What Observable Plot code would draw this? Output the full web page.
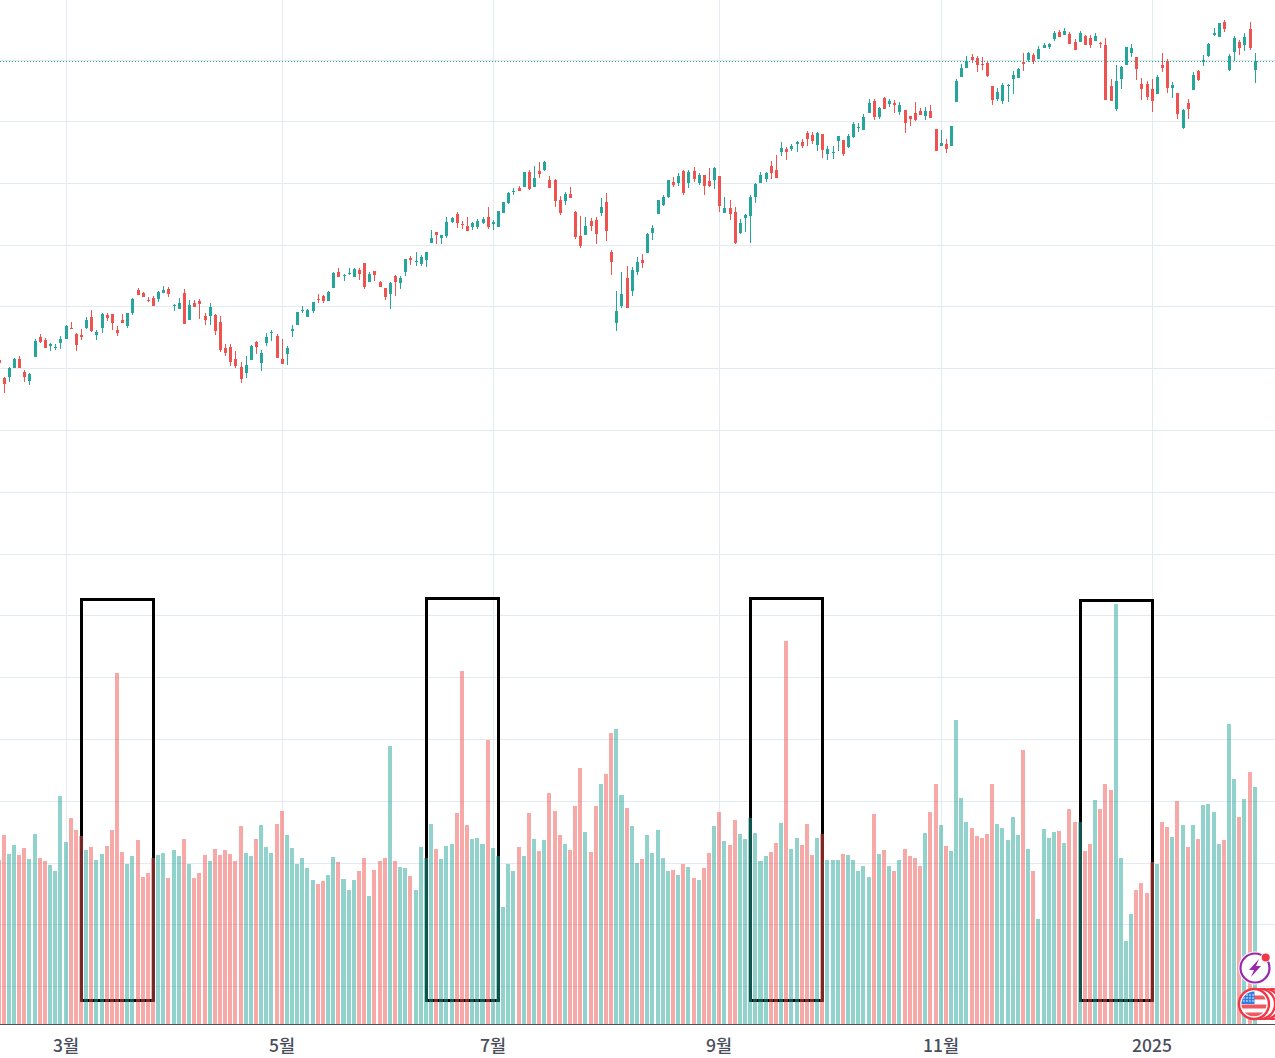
<!DOCTYPE html>
<html lang="ko">
<head>
<meta charset="utf-8">
<title>Candlestick and volume chart</title>
<script src="https://cdn.jsdelivr.net/npm/d3@7"></script>
<script src="https://cdn.jsdelivr.net/npm/@observablehq/plot@0.6"></script>
<style>
html,body{margin:0;padding:0;background:#fff;overflow:hidden}
#chart{position:relative;width:1275px;height:1058px;overflow:hidden}
#chart svg{display:block}
#icons{position:absolute;left:0;top:0;pointer-events:none}
</style>
</head>
<body>
<div id="chart"></div>
<script>
// Values are read off the picture. The axis has no printed scale, so price and volume are
// in relative chart units above the baseline of the pane. Session -1 is the clipped first bar.
const high = [664,
647,657,666,668,654,651,685,690,686,681,
680,688,699,702,691,695,707,714,694,711,
711,710,698,710,711,726,736,732,727,728,
733,738,737,720,726,735,724,724,725,711,
721,710,708,680,680,673,662,668,679,683,
674,691,694,690,685,678,699,712,718,715,
722,730,729,733,752,756,750,756,756,756,
761,752,753,743,736,742,749,748,765,768,
772,769,772,794,792,789,807,807,812,803,
807,802,805,807,817,804,813,822,832,836,
838,852,854,858,862,863,848,845,828,832,
837,813,808,807,806,807,826,831,774,733,
752,758,757,767,770,791,799,824,829,844,
847,851,854,854,857,851,849,856,857,848,
827,824,817,805,810,829,841,852,852,863,
869,882,877,880,883,885,893,892,892,890,
878,878,888,884,890,902,901,910,925,925,
917,927,925,924,922,914,908,922,916,917,
919,895,894,885,898,945,960,968,970,968,
967,962,938,936,941,940,953,956,971,972,
971,978,981,981,993,994,996,992,985,993,
989,989,991,982,986,945,959,958,977,980,
967,946,943,945,949,971,965,942,931,915,
925,952,954,969,981,996,1001,1004,970,988,
984,991,1002,971];
const low = [661,
631,642,656,656,642,639,667,681,676,673,
674,675,685,695,673,684,695,692,684,691,
703,694,688,701,696,709,729,727,722,718,
722,731,727,713,715,700,704,717,705,699,
699,689,672,668,658,656,641,646,664,670,
653,678,683,666,660,659,687,699,711,707,
711,721,721,723,736,747,743,749,747,744,
735,742,743,737,724,715,728,735,748,759,
758,758,757,781,780,780,786,801,796,795,
793,794,795,800,795,794,797,811,820,829,
833,837,834,837,846,853,836,817,809,819,
826,785,776,789,793,780,808,783,749,693,
716,716,728,749,756,771,784,810,818,826,
837,838,829,836,842,839,829,837,835,812,
811,804,780,790,792,781,821,841,842,845,
846,868,864,873,872,876,878,880,873,866,
864,865,873,868,876,886,892,894,911,904,
905,915,917,911,909,891,898,903,909,904,
906,873,878,871,878,922,947,956,961,952,
954,947,919,923,920,922,930,946,953,962,
960,965,976,975,983,987,989,980,974,982,
979,976,983,976,924,923,913,935,959,967,
944,924,924,912,930,952,931,926,905,895,
905,934,943,958,967,988,987,992,953,963,
969,973,974,941];
const open = [664,
646,647,656,665,652,643,667,687,684,678,
676,681,685,696,690,689,696,707,689,696,
709,710,694,704,698,711,734,731,724,726,
725,731,735,718,715,731,704,721,723,708,
708,709,702,676,677,665,657,651,664,682,
661,681,691,688,665,670,693,699,713,707,
713,725,728,723,736,752,748,750,747,754,
761,742,753,742,736,730,748,741,752,766,
762,760,764,781,792,786,788,802,810,800,
798,797,797,801,807,800,797,811,821,832,
836,837,852,837,853,854,844,844,824,823,
830,812,788,789,803,804,811,822,772,701,
718,746,733,752,764,771,791,810,819,827,
842,841,853,841,853,841,849,843,844,848,
811,816,812,791,806,808,827,841,845,858,
854,872,875,875,880,882,891,889,879,890,
870,871,883,884,877,887,896,894,911,923,
907,926,920,921,912,914,908,911,913,908,
913,895,878,880,878,922,947,956,967,966,
960,961,938,925,923,938,945,946,962,964,
969,965,976,977,985,992,989,990,982,982,
988,986,983,981,979,938,915,945,959,971,
967,940,940,935,930,959,963,936,931,896,
921,934,953,962,968,989,987,1002,954,972,
982,979,995,954];
const close = [661,
640,656,665,656,647,650,683,682,676,680,
677,685,698,695,679,687,704,693,692,710,
706,701,691,701,711,725,729,727,723,718,
732,734,730,719,721,700,719,717,720,704,
717,693,674,671,662,658,645,659,678,677,
671,687,692,666,660,676,695,712,714,714,
722,724,723,732,751,747,749,751,755,750,
737,750,749,737,727,741,742,746,765,764,
763,767,772,786,789,789,802,806,801,799,
793,801,803,805,797,802,813,822,831,833,
833,852,835,846,850,862,836,823,811,830,
826,787,778,798,798,790,817,793,762,713,
730,716,754,762,761,790,796,824,827,844,
839,848,831,852,845,849,838,838,856,818,
816,810,781,801,809,827,840,849,851,851,
846,876,872,878,882,878,885,883,891,874,
875,872,888,870,888,900,897,907,921,907,
916,915,923,919,919,901,905,904,909,913,
906,873,881,875,898,943,956,963,964,959,
959,948,924,932,939,939,949,955,960,971,
963,975,979,980,991,987,993,980,974,991,
979,979,988,980,924,923,943,957,977,976,
955,935,927,923,947,956,936,939,910,914,
915,949,944,964,980,991,1001,995,968,986,
976,987,976,963];
const volume = [164,
189,170,179,169,176,165,190,166,163,159,
153,228,182,206,194,188,174,177,164,170,
178,194,351,172,160,168,184,147,151,166,
169,171,146,174,168,185,160,146,151,169,
163,175,169,174,170,163,198,171,168,185,
199,177,171,200,213,189,176,160,166,156,
144,140,143,149,167,162,145,134,144,153,
166,128,154,163,166,278,163,157,156,148,
134,177,166,200,175,165,178,180,211,353,
199,185,186,180,284,176,168,117,160,153,
177,168,211,185,173,184,231,213,189,180,
174,218,256,192,172,218,240,250,291,295,
229,216,198,161,165,189,171,194,166,153,
154,149,160,157,146,144,156,171,198,212,
183,179,204,190,185,206,191,163,168,172,
181,201,383,175,186,179,200,169,186,190,
164,164,164,170,169,164,153,158,147,210,
170,174,158,153,164,175,168,166,158,191,
212,240,199,178,173,304,226,202,196,188,
186,190,240,200,196,184,207,189,274,175,
153,105,195,186,192,193,181,215,202,202,
173,180,224,215,240,234,420,166,83,110,
134,141,131,162,160,202,197,187,223,199,
177,199,185,219,220,212,180,184,300,245,
207,225,252,237];

const tickSessions = [12,54,95,139,182,223];
const tickLabels = ["3월","5월","7월","9월","11월","2025"];
const gridLevels = [964,903,841,779,718,656,594,532,470,409,347,285,223,161,100,38];
const frameStart = [15,82,145,209];
const frameEnd = [29,96,159,223];
const frameTop = [425,426,426,424];
const frameBottom = [24,24,24,24];

const upColor = "#26a69a", downColor = "#ef5350", gridColor = "#e3ebf2";
const rows = high.map((h,k)=>({i:k-1,high:h,low:low[k],open:open[k],close:close[k],volume:volume[k],
  color:close[k]>=open[k]?upColor:downColor}));
const frames = frameStart.map((s,k)=>({x1:s,x2:frameEnd[k],y1:frameBottom[k],y2:frameTop[k]}));

const chart = Plot.plot({
  width:1275,height:1058,
  marginTop:0,marginRight:0,marginLeft:0,marginBottom:34,
  style:{fontFamily:"'Noto Sans CJK KR',Roboto,sans-serif",color:"#4a4e5c",background:"#fff",overflow:"hidden"},
  x:{axis:null,domain:[0,243],range:[3.74,1254.7],round:true},
  y:{axis:null,domain:[0,1024],range:[1024,0]},
  color:{type:"identity"},
  marks:[
    Plot.ruleY(gridLevels,{stroke:gridColor,strokeWidth:1}),
    Plot.ruleX(tickSessions,{y1:0,y2:1024,stroke:gridColor,strokeWidth:1}),
    Plot.rect(frames,{x1:"x1",x2:"x2",y1:"y1",y2:"y2",fill:"none",stroke:"#000",strokeWidth:3,dx:0.5,dy:0.5}),
    Plot.rect(rows,{x1:d=>d.i-0.39,x2:d=>d.i+0.39,y1:0,y2:"volume",fill:"color",fillOpacity:0.5}),
    Plot.ruleX(rows,{x:"i",y1:"low",y2:"high",stroke:"color",strokeWidth:1}),
    Plot.ruleX(rows,{x:"i",y1:"open",y2:"close",stroke:"color",strokeWidth:3}),
    Plot.ruleY([close[close.length-1]],{stroke:upColor,strokeWidth:1,strokeDasharray:"1,2"}),
    Plot.ruleY([0],{stroke:"#50535e",strokeWidth:1}),
    Plot.axisX(tickSessions,{anchor:"bottom",tickSize:0,tickPadding:15,label:null,dx:-0.5,
      tickFormat:d=>tickLabels[tickSessions.indexOf(d)],fontSize:17.5,fontWeight:500})
  ]
});
const host = document.getElementById("chart");
host.appendChild(chart);

// The two small badges in the lower right corner of the screenshot.
const icons = d3.select(host).append("svg").attr("id","icons").attr("width",1275).attr("height",1058);
const defs = icons.append("defs");
defs.append("clipPath").attr("id","flagClip").append("circle").attr("cx",1254).attr("cy",1004).attr("r",12.5);
// lightning badge
icons.append("circle").attr("cx",1255).attr("cy",968).attr("r",16.5).attr("fill","#fff");
icons.append("circle").attr("cx",1255).attr("cy",968).attr("r",14.5).attr("fill","#fff").attr("stroke","#9c27b0").attr("stroke-width",2.2);
icons.append("path").attr("d","M1259 959 L1249 970 L1254 970 L1251 977 L1261 966 L1256 966 Z").attr("fill","#9c27b0");
icons.append("circle").attr("cx",1265.7).attr("cy",957.5).attr("r",5).attr("fill","#fff");
icons.append("circle").attr("cx",1265.7).attr("cy",957.5).attr("r",4).attr("fill","#f23645");
// flag badge with rings stacked behind it
[1272,1265,1260].forEach(cx=>{
  icons.append("circle").attr("cx",cx).attr("cy",1004).attr("r",15).attr("fill","#fff").attr("stroke","#f23645").attr("stroke-width",2.2);
});
icons.append("circle").attr("cx",1254).attr("cy",1004).attr("r",15).attr("fill","#fff").attr("stroke","#f23645").attr("stroke-width",2.4);
const flag = icons.append("g").attr("clip-path","url(#flagClip)");
flag.append("rect").attr("x",1240).attr("y",990).attr("width",28).attr("height",28).attr("fill","#fff");
[997,1006,1014].forEach(y=>flag.append("rect").attr("x",1240).attr("y",y-1.5).attr("width",28).attr("height",4).attr("fill","#f0575f"));
flag.append("rect").attr("x",1240).attr("y",990).attr("width",14.5).attr("height",14).attr("fill","#2f7de1");
for(let r=0;r<3;r++)for(let c=0;c<4;c++){
  flag.append("circle").attr("cx",1244+c*3).attr("cy",995+r*3).attr("r",0.8).attr("fill","#fff");
}
</script>
</body>
</html>
